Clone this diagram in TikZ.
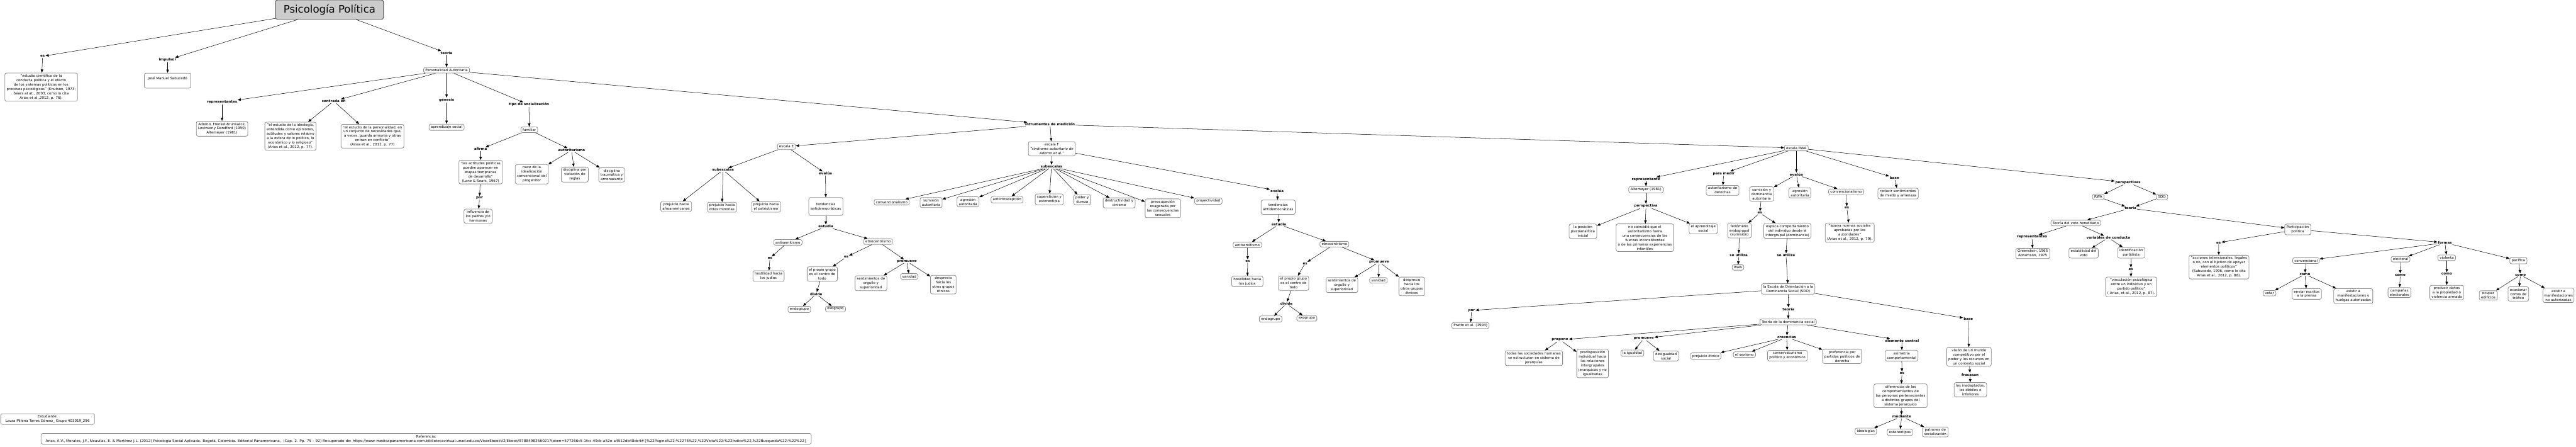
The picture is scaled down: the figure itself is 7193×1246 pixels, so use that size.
\documentclass[tikz,border=0pt]{standalone}
\usepackage{fontspec}
\usepackage{graphicx}
\setmainfont{DejaVu Sans}
\usetikzlibrary{arrows.meta}
\newcommand{\cf}{\fontsize{9.8pt}{12.2pt}\selectfont}
\tikzset{
 cpt/.style={draw=black!45, line width=1.4pt, rounded corners=5pt, fill=white, align=center, inner xsep=5pt, inner ysep=4pt, font=\cf},
 lk/.style={font=\cf\bfseries, inner sep=1.5pt},
 arr/.style={draw=black, line width=0.9pt, -{Triangle[length=9pt,width=7pt]}},
}
\begin{document}
\begin{tikzpicture}[x=1pt,y=-1pt]
\fill[white] (0,0) rectangle (7193,1246);
\useasboundingbox (0,0) rectangle (7193,1246);

% title
\node[draw=gray!55!black, fill=gray!40, line width=1.5pt, rounded corners=6pt, minimum width=302pt, minimum height=54pt, font=\fontsize{29pt}{34pt}\selectfont] (T) at (920,27) {Psicología Política};

% ---- left part
\node[cpt] (C1) at (115,243) {"estudio científico de la\\conducta política y el efecto\\de los sistemas políticos en los\\procesos psicológicos" (Knutson, 1973;\\Sears at at., 2003, como lo cita\\Arias et al.,2012, p. 76).};
\node[cpt, minimum width=130pt, minimum height=42pt] (Sab) at (468,225) {José Manuel Sabucedo\\~};
\node[cpt] (PA) at (1247,196) {Personalidad Autoritaria};
\node[cpt] (Ador) at (620,359) {Adorno, Frenkel-Brunswick,\\Levinsony Dandford (1950)\\Altemeyer (1981)};
\node[cpt] (Ideo) at (811,380) {"el estudio de la ideología,\\entendida como opiniones,\\actitudes y valores relativo\\a la esfera de lo político, lo\\económico y lo religioso"\\(Arias et al., 2012, p. 77).};
\node[cpt] (Pers) at (1040,380) {"el estudio de la personalidad, en\\un conjunto de necesidades que,\\a veces, guarda armonía y otras\\entran en conflicto"\\(Arias et al., 2012, p. 77)};
\node[cpt] (AS1) at (1247,355) {aprendizaje social};
\node[cpt] (Fam) at (1478,362) {familiar};
\node[cpt] (Act) at (1342,480) {"las actitudes políticas\\pueden aparecer en\\etapas tempranas\\de desarrollo"\\(Lane \& Sears, 1967)};
\node[cpt] (Infl) at (1335,603) {influencia de\\los padres y/o\\hermanos};
\node[cpt] (Nace) at (1485,486) {nace de la\\idealización\\convencional del\\progenitor};
\node[cpt] (DisP) at (1605,487) {disciplina por\\violación de\\reglas};
\node[cpt] (DisT) at (1708,488) {disciplina\\traumática y\\amenazante};

% escala E subtree
\node[cpt] (EscE) at (2196,409) {escala E};
\node[cpt] (PrA) at (1888,576) {prejuicio hacia\\afroamericanos};
\node[cpt] (PrM) at (2016,578) {prejuicio hacia\\otras minorias};
\node[cpt] (PrP) at (2139,577) {prejuicio hacia\\el patriotismo};
\node[cpt, minimum height=50pt] (Ten1) at (2306,576) {tendencias\\antidemocráticas};
\node[cpt] (Ant1) at (2200,676) {antisemitismo};
\node[cpt] (Hos1) at (2146,770) {hostilidad hacia\\los judíos};
\node[cpt] (Etn1) at (2452,674) {etnocentrismo};
\node[cpt] (Pro1) at (2296,764) {el propio grupo\\es el centro de\\todo};
\node[cpt] (End1) at (2232,863) {endogrupo};
\node[cpt] (Exo1) at (2333,862) {exogrupo};
\node[cpt] (Sen1) at (2432,790) {sentimientos de\\orgullo y\\superioridad};
\node[cpt] (Van1) at (2539,771) {vanidad};
\node[cpt] (Des1) at (2634,794) {desprecio\\hacia los\\otros grupos\\étnicos};

% escala F subtree
\node[cpt] (EscF) at (2937,415) {escala F\\\textit{"síndrome autoritario de}\\\textit{Adorno et al."}};
\node[cpt] (F1) at (2490,564) {convencionalismo};
\node[cpt] (F2) at (2600,565) {sumisión\\autoritaria};
\node[cpt] (F3) at (2703,563) {agresión\\autoritaria};
\node[cpt] (F4) at (2812,557) {antiintracepción};
\node[cpt] (F5) at (2930,556) {superstición y\\estereotipia};
\node[cpt] (F6) at (3022,557) {poder y\\dureza};
\node[cpt] (F7) at (3125,566) {destructividad y\\cinismo};
\node[cpt] (F8) at (3247,581) {preocupación\\exagerada por\\las consecuencias\\sexuales};
\node[cpt] (F9) at (3374,561) {proyectividad};
\node[cpt, minimum height=40pt] (Ten2) at (3569,578) {tendencias\\antidemocráticas};
\node[cpt] (Ant2) at (3483,683) {antisemitismo};
\node[cpt] (Hos2) at (3483,785) {hostilidad hacia\\los judíos};
\node[cpt] (Etn2) at (3726,681) {etnocentrismo};
\node[cpt] (Pro2) at (3612,790) {el propio grupo\\es el centro de\\todo};
\node[cpt] (End2) at (3548,890) {endogrupo};
\node[cpt] (Exo2) at (3649,888) {exogrupo};
\node[cpt] (Sen2) at (3747,795) {sentimientos de\\orgullo y\\superioridad};
\node[cpt] (Van2) at (3849,782) {vanidad};
\node[cpt] (Des2) at (3942,799) {desprecio\\hacia los\\otros grupos\\étnicos};

% escala RWA subtree
\node[cpt] (RWA) at (5016,413) {escala RWA};
\node[cpt] (AutD) at (4810,531) {autoritarismo de\\derechas};
\node[cpt] (Alt) at (4596,529) {Altemeyer (1981)};
\node[cpt] (Psi) at (4420,645) {la posición\\psicoanalítica\\inicial};
\node[cpt] (NoC) at (4593,663) {no coincidió que el\\autoritarismo fuera\\una consecuencias de las\\fuerzas inconsistentes\\o de las primeras experiencias\\infantiles};
\node[cpt] (AS2) at (4756,638) {el aprendizaje\\social};
\node[cpt] (SyD) at (4919,541) {sumisión y\\dominancia\\autoritaria};
\node[cpt] (Agr) at (5026,538) {agresión\\autoritaria};
\node[cpt] (Conv) at (5155,535) {convencionalismo};
\node[cpt] (Fen) at (4857,643) {fenómeno\\endogrupal\\(sumisión)};
\node[cpt] (Exp) at (4991,644) {explica comportamiento\\del individuo desde el\\intergrupal (dominancia)};
\node[cpt] (Apo) at (5165,649) {"apoya normas sociales\\aprobadas por las\\autoridades"\\(Arias et al., 2012, p. 79).};
\node[cpt] (RWAb) at (4853,746) {RWA};
\node[cpt] (SDO) at (4993,806) {la Escala de Orientación a la\\Dominancia Social (SDO)};
\node[cpt] (Red) at (5300,540) {reducir sentimientos\\de miedo y amenaza};
\node[cpt] (RWA2) at (5859,549) {RWA};
\node[cpt] (SDO2) at (6037,549) {SDO};
\node[cpt] (TVH) at (5796,622) {Teoría del voto hereditario};
\node[cpt] (Gre) at (5676,707) {Greenstein, 1965\\Abramson, 1975};
\node[cpt] (Estab) at (5818,706) {estabilidad del\\voto};
\node[cpt] (Ident) at (5951,705) {identificación\\partidista};
\node[cpt] (Vinc) at (5951,800) {"vinculación psicológica\\entre un individuo y un\\partido político"\\( Arias, et al., 2012, p. 87).};

% participacion
\node[cpt] (Part) at (6416,640) {Participación\\política};
\node[cpt] (Acc) at (6196,745) {"acciones intencionales, legales\\o no, con el bjetivo de apoyar\\elementos políticos"\\(Sabucedo, 1996, como lo cita\\Arias et al., 2012, p. 88).};
\node[cpt] (Conv2) at (6439,727) {convencional};
\node[cpt] (Elec) at (6703,723) {electoral};
\node[cpt] (Viol) at (6832,719) {violenta};
\node[cpt] (Paci) at (7032,727) {pacífica};
\node[cpt] (Vot) at (6337,818) {votar};
\node[cpt] (Env) at (6441,820) {enviar escritos\\a la prensa};
\node[cpt] (AsA) at (6571,826) {asistir a\\manifestaciones y\\huelgas autorizadas};
\node[cpt] (Cam) at (6700,816) {campañas\\electorales};
\node[cpt] (Prod) at (6832,816) {producir daños\\a la propiedad o\\violencia armada};
\node[cpt] (Ocu) at (6948,824) {ocupar\\edificios};
\node[cpt] (Oca) at (7032,820) {ocasionar\\cortes de\\tráfico};
\node[cpt, inner xsep=3pt] (AsN) at (7144,824) {asistir a\\manifestaciones\\no autorizadas};

% SDO subtree
\node[cpt] (Pra) at (4106,908) {Pratto et al. (1994)};
\node[cpt] (TDS) at (4993,898) {Teoría de la dominancia social};
\node[cpt] (Vis) at (5498,995) {visión de un mundo\\competitivo por el\\poder y los recursos en\\un contexto social};
\node[cpt] (Ina) at (5502,1087) {los inadaptados,\\los débiles e\\inferiores};
\node[cpt] (PrE) at (4763,993) {prejuicio étnico};
\node[cpt] (Sex) at (4871,989) {el sexismo};
\node[cpt] (Cons) at (4991,992) {conservaturismo\\político y económico};
\node[cpt] (Pref) at (5144,994) {preferencia por\\partidos políticos de\\derecha};
\node[cpt] (Asi) at (5310,992) {asimetría\\comportamental};
\node[cpt] (Dif) at (5307,1104) {diferencias de los\\comportamientos de\\las personas pertenecientes\\a distintos grupos del\\sistema jerarquico};
\node[cpt] (Ideol) at (5210,1203) {ideologías};
\node[cpt] (Este) at (5305,1206) {estereotipos};
\node[cpt] (Patr) at (5404,1205) {patrones de\\socialización};
\node[cpt] (Todas) at (4283,999) {todas las sociedades humanas\\se estructuran en sistema de\\jerarquías};
\node[cpt] (Pred) at (4447,1014) {predisposición\\individual hacia\\las relaciones\\intergrupales\\jerarquicas y no\\igualitarias};
\node[cpt] (Igu) at (4558,985) {la igualdad};
\node[cpt] (Desig) at (4652,993) {desigualdad\\social};

% footer
\node[cpt, minimum width=262pt] (Est) at (133,1169) {Estudiante:\\Laura Milena Torres Gómez\_ Grupo 403019\_296};
\node[cpt, minimum width=2151pt] (Ref) at (1190,1224) {Referencia:\\\resizebox{2125pt}{\height}{Arias, A.V., Morales, J.F., Nouvilas, E. \& Martínez J.L. (2012) Psicología Social Aplicada. Bogotá, Colombia. Editorial Panamericana,~ (Cap. 2. Pp. 75 – 92) Recuperado de: https://www-medicapanamericana-com.bibliotecavirtual.unad.edu.co/VisorEbookV2/Ebook/9788498356021?token=577266c5-1fcc-49cb-a52e-a4512db48de4\#\{\%22Pagina\%22:\%2275\%22,\%22Vista\%22:\%22Indice\%22,\%22Busqueda\%22:\%22\%22\}}};

% ---- link labels
\node[lk] (Les1) at (119,157) {es};
\node[lk] (Limp) at (468,167) {impulsor};
\node[lk] (Lteo1) at (1247,148) {teoria};
\node[lk] (Lrep1) at (620,285) {representantes};
\node[lk] (Lcen) at (932,282) {centrada en};
\node[lk] (Lgen) at (1247,279) {génesis};
\node[lk] (Ltsoc) at (1477,292) {tipo de socialización};
\node[lk] (Lafi) at (1342,416) {afirma};
\node[lk] (Lpor1) at (1339,552) {por};
\node[lk] (Laut) at (1596,419) {autoritarismo};
\node[lk] (Lins) at (2932,347) {intrumentos de medición};
\node[lk] (Lsub1) at (2019,474) {subescalas};
\node[lk] (Lev1) at (2305,484) {evalúa};
\node[lk] (Lest1) at (2306,632) {estudia};
\node[lk] (LesA1) at (2150,720) {es};
\node[lk] (LesE1) at (2363,717) {es};
\node[lk] (Ldiv1) at (2279,820) {divide};
\node[lk] (Lprm1) at (2532,729) {promueve};
\node[lk] (Lsub2) at (2936,465) {subescalas};
\node[lk] (Lev2) at (3566,532) {evalúa};
\node[lk] (Lest2) at (3571,626) {estudia};
\node[lk] (LesA2) at (3484,728) {es};
\node[lk] (LesE2) at (3644,735) {es};
\node[lk] (Ldiv2) at (3592,847) {divide};
\node[lk] (Lprm2) at (3851,731) {promueve};
\node[lk] (Lpm) at (4813,484) {para medir};
\node[lk] (Lrep2) at (4596,500) {representante};
\node[lk] (Lpersp) at (4596,575) {perspectiva};
\node[lk] (Lev3) at (5016,487) {evalúa};
\node[lk] (LesS) at (4914,594) {es};
\node[lk] (Lseu1) at (4855,712) {se utiliza};
\node[lk] (Lseu2) at (4987,712) {se utiliza};
\node[lk] (LesC) at (5157,580) {es};
\node[lk] (Lbase1) at (5290,496) {base};
\node[lk] (Lpersps) at (5942,509) {perspectivas};
\node[lk] (Lteo2) at (5949,581) {teoria};
\node[lk] (Lrep3) at (5674,661) {representantes};
\node[lk] (Lvar) at (5887,663) {variables de conducta};
\node[lk] (LesI) at (5950,751) {es};
\node[lk] (LesP) at (6195,677) {es};
\node[lk] (Lfor) at (6827,677) {formas};
\node[lk] (Lcomo1) at (6436,765) {como};
\node[lk] (Lcomo2) at (6702,767) {como};
\node[lk] (Lcomo3) at (6832,764) {como};
\node[lk] (Lcomo4) at (7038,767) {como};
\node[lk] (LporS) at (4109,866) {por};
\node[lk] (LteoS) at (4994,863) {teoría};
\node[lk] (LbaseS) at (5496,889) {base};
\node[lk] (Lfra) at (5501,1045) {fracasan};
\node[lk] (Lcre) at (4989,941) {creencias};
\node[lk] (Lelc) at (5311,950) {elemento central};
\node[lk] (LesAs) at (5311,1041) {es};
\node[lk] (Lmed) at (5310,1162) {mediante};
\node[lk] (Lprop) at (4356,948) {propone};
\node[lk] (Lprom) at (4590,944) {promueve};

% ---- connectors
\foreach \a/\b in {T/Les1, Les1/C1, T/Limp, Limp/Sab, T/Lteo1, Lteo1/PA,
 PA/Lrep1, Lrep1/Ador, PA/Lcen, Lcen/Ideo, Lcen/Pers, PA/Lgen, Lgen/AS1, PA/Ltsoc, Ltsoc/Fam,
 Fam/Lafi, Lafi/Act, Act/Lpor1, Lpor1/Infl, Fam/Laut, Laut/Nace, Laut/DisP, Laut/DisT,
 PA/Lins, Lins/EscE, Lins/EscF, Lins/RWA,
 EscE/Lsub1, Lsub1/PrA, Lsub1/PrM, Lsub1/PrP, EscE/Lev1, Lev1/Ten1, Ten1/Lest1, Lest1/Ant1, Lest1/Etn1,
 Ant1/LesA1, LesA1/Hos1, Etn1/LesE1, LesE1/Pro1, Pro1/Ldiv1, Ldiv1/End1, Ldiv1/Exo1,
 Etn1/Lprm1, Lprm1/Sen1, Lprm1/Van1, Lprm1/Des1,
 EscF/Lsub2, Lsub2/F1, Lsub2/F2, Lsub2/F3, Lsub2/F4, Lsub2/F5, Lsub2/F6, Lsub2/F7, Lsub2/F8, Lsub2/F9,
 EscF/Lev2, Lev2/Ten2, Ten2/Lest2, Lest2/Ant2, Lest2/Etn2,
 Ant2/LesA2, LesA2/Hos2, Etn2/LesE2, LesE2/Pro2, Pro2/Ldiv2, Ldiv2/End2, Ldiv2/Exo2,
 Etn2/Lprm2, Lprm2/Sen2, Lprm2/Van2, Lprm2/Des2,
 RWA/Lpm, Lpm/AutD, RWA/Lrep2, Lrep2/Alt, Alt/Lpersp, Lpersp/Psi, Lpersp/NoC, Lpersp/AS2,
 RWA/Lev3, Lev3/SyD, Lev3/Agr, Lev3/Conv, SyD/LesS, LesS/Fen, LesS/Exp, Fen/Lseu1, Lseu1/RWAb,
 Exp/Lseu2, Lseu2/SDO, Conv/LesC, LesC/Apo, RWA/Lbase1, Lbase1/Red,
 RWA/Lpersps, Lpersps/RWA2, Lpersps/SDO2, RWA2/Lteo2, SDO2/Lteo2, Lteo2/TVH, Lteo2/Part,
 TVH/Lrep3, Lrep3/Gre, TVH/Lvar, Lvar/Estab, Lvar/Ident, Ident/LesI, LesI/Vinc,
 Part/LesP, LesP/Acc, Part/Lfor, Lfor/Conv2, Lfor/Elec, Lfor/Viol, Lfor/Paci,
 Conv2/Lcomo1, Lcomo1/Vot, Lcomo1/Env, Lcomo1/AsA, Elec/Lcomo2, Lcomo2/Cam,
 Viol/Lcomo3, Lcomo3/Prod, Paci/Lcomo4, Lcomo4/Ocu, Lcomo4/Oca, Lcomo4/AsN,
 SDO/LporS, LporS/Pra, SDO/LteoS, LteoS/TDS, SDO/LbaseS, LbaseS/Vis, Vis/Lfra, Lfra/Ina,
 TDS/Lcre, Lcre/PrE, Lcre/Sex, Lcre/Cons, Lcre/Pref, TDS/Lelc, Lelc/Asi, Asi/LesAs, LesAs/Dif,
 Dif/Lmed, Lmed/Ideol, Lmed/Este, Lmed/Patr, TDS/Lprop, Lprop/Todas, Lprop/Pred,
 TDS/Lprom, Lprom/Igu, Lprom/Desig}
 \draw[arr] (\a) -- (\b);
\end{tikzpicture}
\end{document}
